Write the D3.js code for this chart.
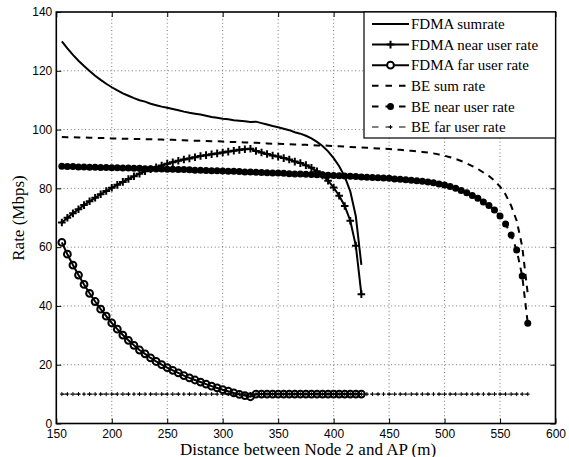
<!DOCTYPE html>
<html>
<head>
<meta charset="utf-8">
<script src="https://cdn.jsdelivr.net/npm/d3@7"></script>
<style>
  html, body { margin: 0; padding: 0; background: #fff; }
  svg { display: block; }
  .serif { font-family: "Liberation Serif", "Times New Roman", Tinos, "DejaVu Serif", serif; }
  .sans { font-family: "Liberation Sans", Arial, Helvetica, Arimo, sans-serif; }
</style>
</head>
<body>
<svg id="chart" width="569" height="457"></svg>
<script>
// Distance between Node 2 and the AP (m)
const distFdma = [155,160,165,170,175,180,185,190,195,200,205,210,215,220,225,230,235,240,245,250,
  255,260,265,270,275,280,285,290,295,300,305,310,315,320,325,330,335,340,345,350,
  355,360,365,370,375,380,385,390,395,400,405,410,415,420,425];
const distBe = [155,160,165,170,175,180,185,190,195,200,205,210,215,220,225,230,235,240,245,250,
  255,260,265,270,275,280,285,290,295,300,305,310,315,320,325,330,335,340,345,350,
  355,360,365,370,375,380,385,390,395,400,405,410,415,420,425,430,435,440,445,450,
  455,460,465,470,475,480,485,490,495,500,505,510,515,520,525,530,535,540,545,550,
  555,560,565,570,575];

// Rates (Mbps)
const fdmaSum = [130.0,127.6,125.4,123.4,121.6,119.9,118.3,116.9,115.6,114.4,113.3,112.3,111.5,110.7,110.0,109.5,108.8,108.3,107.8,107.4,
  107.0,106.6,106.1,105.7,105.4,105.1,104.7,104.3,104.0,103.7,103.5,103.2,103.0,102.8,102.6,102.7,102.2,101.7,101.2,100.8,
  100.3,99.8,99.1,98.6,97.9,97.0,95.8,94.4,92.6,90.3,87.5,84.0,79.0,70.5,54.0];
const fdmaNear = [68.4,70.0,71.5,72.9,74.3,75.6,76.8,78.0,79.1,80.2,81.2,82.2,83.2,84.1,85.0,85.8,86.5,87.2,87.8,88.4,
  88.9,89.4,89.8,90.2,90.6,91.0,91.3,91.6,91.9,92.2,92.5,92.8,93.1,93.3,93.5,92.7,92.2,91.7,91.2,90.8,
  90.3,89.8,89.1,88.6,87.9,87.0,85.8,84.4,82.6,80.3,77.5,74.0,69.0,60.5,44.0];
const fdmaFar = [61.6,57.6,53.9,50.5,47.3,44.3,41.5,38.9,36.5,34.2,32.1,30.1,28.3,26.6,25.0,23.7,22.3,21.1,20.0,19.0,
  18.1,17.2,16.3,15.5,14.8,14.1,13.4,12.7,12.1,11.5,11.0,10.4,9.9,9.5,9.1,10.0,10.0,10.0,10.0,10.0,
  10.0,10.0,10.0,10.0,10.0,10.0,10.0,10.0,10.0,10.0,10.0,10.0,10.0,10.0,10.0];
const beSum = [97.5,97.4,97.4,97.3,97.3,97.2,97.2,97.1,97.1,97.0,97.0,96.9,96.9,96.8,96.8,96.7,96.7,96.6,96.6,96.5,
  96.5,96.4,96.4,96.3,96.2,96.2,96.1,96.0,96.0,95.9,95.8,95.8,95.7,95.6,95.6,95.5,95.4,95.3,95.2,95.2,
  95.1,95.0,94.9,94.9,94.8,94.7,94.6,94.6,94.5,94.4,94.3,94.2,94.1,94.0,93.9,93.8,93.7,93.6,93.5,93.4,
  93.2,93.1,92.9,92.8,92.6,92.4,92.2,91.9,91.5,91.1,90.6,90.0,89.3,88.5,87.6,86.6,85.4,84.2,82.6,80.6,
  77.9,74.1,69.0,60.2,44.1];
const beNear = [87.5,87.4,87.4,87.3,87.3,87.2,87.2,87.1,87.1,87.0,87.0,86.9,86.9,86.8,86.8,86.7,86.7,86.6,86.6,86.5,
  86.5,86.4,86.4,86.3,86.2,86.2,86.1,86.0,86.0,85.9,85.8,85.8,85.7,85.6,85.6,85.5,85.4,85.3,85.2,85.2,
  85.1,85.0,84.9,84.9,84.8,84.7,84.6,84.6,84.5,84.4,84.3,84.2,84.1,84.0,83.9,83.8,83.7,83.6,83.5,83.4,
  83.2,83.1,82.9,82.8,82.6,82.4,82.2,81.9,81.5,81.1,80.6,80.0,79.3,78.5,77.6,76.6,75.4,74.2,72.6,70.6,
  67.9,64.1,59.0,50.2,34.1];
const beFar = [10,10,10,10,10,10,10,10,10,10,10,10,10,10,10,10,10,10,10,10,
  10,10,10,10,10,10,10,10,10,10,10,10,10,10,10,10,10,10,10,10,
  10,10,10,10,10,10,10,10,10,10,10,10,10,10,10,10,10,10,10,10,
  10,10,10,10,10,10,10,10,10,10,10,10,10,10,10,10,10,10,10,10,
  10,10,10,10,10];

const xTicks = [150,200,250,300,350,400,450,500,550,600];
const yTicks = [0,20,40,60,80,100,120,140];

const seriesNames = ["FDMA sumrate","FDMA near user rate","FDMA far user rate",
                     "BE sum rate","BE near user rate","BE far user rate"];

const svg = d3.select("#chart");
const pLeft = 56.3, pRight = 555.5, pTop = 12, pBottom = 423.5;
const x = d3.scaleLinear().domain([150, 600]).range([pLeft, pRight]);
const y = d3.scaleLinear().domain([0, 140]).range([pBottom, pTop]);

// dotted grid
const grid = svg.append("g");
xTicks.slice(1, -1).forEach(t => {
  grid.append("line").attr("x1", x(t)).attr("x2", x(t)).attr("y1", pTop).attr("y2", pBottom)
    .attr("stroke", "#666").attr("stroke-width", 0.9).attr("stroke-dasharray", "1,2.6");
});
yTicks.slice(1, -1).forEach(t => {
  grid.append("line").attr("x1", pLeft).attr("x2", pRight).attr("y1", y(t)).attr("y2", y(t))
    .attr("stroke", "#666").attr("stroke-width", 0.9).attr("stroke-dasharray", "1,2.6");
});

// axes: ticks point inward on all four sides
function styleAxis(g) {
  g.select(".domain").remove();
  g.attr("font-family", null).attr("font-size", null);
  g.selectAll(".tick line").attr("stroke", "#000").attr("stroke-width", 1);
  g.selectAll(".tick text").attr("fill", "#000").attr("class", "sans").style("font-size", "12px");
}
svg.append("g").attr("transform", `translate(0,${pBottom})`)
  .call(d3.axisBottom(x).tickValues(xTicks).tickFormat(d3.format("d")).tickSize(-5).tickPadding(5.5))
  .call(styleAxis);
svg.append("g").attr("transform", `translate(0,${pTop})`)
  .call(d3.axisTop(x).tickValues(xTicks).tickFormat("").tickSize(-5))
  .call(styleAxis);
svg.append("g").attr("transform", `translate(${pLeft},0)`)
  .call(d3.axisLeft(y).tickValues(yTicks).tickFormat(d3.format("d")).tickSize(-5).tickPadding(4))
  .call(styleAxis);
svg.append("g").attr("transform", `translate(${pRight},0)`)
  .call(d3.axisRight(y).tickValues(yTicks).tickFormat("").tickSize(-5))
  .call(styleAxis);

// series
const plot = svg.append("g");
function pts(xs, ys) { return xs.map((d, i) => [d, ys[i]]); }
const line = d3.line().x(d => x(d[0])).y(d => y(d[1]));

const plusPath = s => `M${-s},0H${s}M0,${-s}V${s}`;

// BE far user rate: dash-dot with small plus markers
const beFarPts = pts(distBe, beFar);
plot.append("path").attr("d", line(beFarPts)).attr("fill", "none")
  .attr("stroke", "#000").attr("stroke-width", 1).attr("stroke-dasharray", "6,2.5,1.5,2.5");
plot.selectAll(".bfm").data(beFarPts).enter().append("path")
  .attr("transform", d => `translate(${x(d[0])},${y(d[1])})`)
  .attr("d", plusPath(2)).attr("stroke", "#000").attr("stroke-width", 1).attr("fill", "none");

// BE sum rate: dashed
plot.append("path").attr("d", line(pts(distBe, beSum))).attr("fill", "none")
  .attr("stroke", "#000").attr("stroke-width", 2).attr("stroke-dasharray", "6.5,5.5");

// BE near user rate: dashed with filled dots
const beNearPts = pts(distBe, beNear);
plot.append("path").attr("d", line(beNearPts)).attr("fill", "none")
  .attr("stroke", "#000").attr("stroke-width", 2).attr("stroke-dasharray", "6.5,5.5");
plot.selectAll(".bnm").data(beNearPts).enter().append("circle")
  .attr("cx", d => x(d[0])).attr("cy", d => y(d[1])).attr("r", 3.5).attr("fill", "#000");

// FDMA sumrate: solid
plot.append("path").attr("d", line(pts(distFdma, fdmaSum))).attr("fill", "none")
  .attr("stroke", "#000").attr("stroke-width", 2);

// FDMA near user rate: solid with plus markers
const fdmaNearPts = pts(distFdma, fdmaNear);
plot.append("path").attr("d", line(fdmaNearPts)).attr("fill", "none")
  .attr("stroke", "#000").attr("stroke-width", 2);
plot.selectAll(".fnm").data(fdmaNearPts).enter().append("path")
  .attr("transform", d => `translate(${x(d[0])},${y(d[1])})`)
  .attr("d", plusPath(3.8)).attr("stroke", "#000").attr("stroke-width", 2).attr("fill", "none");

// FDMA far user rate: solid with open circles
const fdmaFarPts = pts(distFdma, fdmaFar);
plot.append("path").attr("d", line(fdmaFarPts)).attr("fill", "none")
  .attr("stroke", "#000").attr("stroke-width", 2);
plot.selectAll(".ffm").data(fdmaFarPts).enter().append("circle")
  .attr("cx", d => x(d[0])).attr("cy", d => y(d[1])).attr("r", 3.4)
  .attr("fill", "none").attr("stroke", "#000").attr("stroke-width", 2);

// plot frame
svg.append("rect").attr("x", pLeft).attr("y", pTop).attr("width", pRight - pLeft).attr("height", pBottom - pTop)
  .attr("fill", "none").attr("stroke", "#000").attr("stroke-width", 1.6);

// axis titles
svg.append("text").attr("class", "serif").attr("x", 308).attr("y", 454.5).attr("text-anchor", "middle")
  .style("font-size", "17px").text("Distance between Node 2 and AP (m)");
svg.append("text").attr("class", "serif").attr("transform", "translate(24,218) rotate(-90)").attr("text-anchor", "middle")
  .style("font-size", "17px").text("Rate (Mbps)");

// legend
const lg = svg.append("g");
lg.append("rect").attr("x", 364).attr("y", pTop).attr("width", pRight - 364).attr("height", 126)
  .attr("fill", "#fff").attr("stroke", "#000").attr("stroke-width", 1.2);
const rowY = [24, 44.6, 65.2, 85.8, 106.4, 127];
const lx1 = 372, lx2 = 409, lmid = (lx1 + lx2) / 2;
const styles = [
  {w: 2, dash: null, marker: null},
  {w: 2, dash: null, marker: "plus"},
  {w: 2, dash: null, marker: "ring"},
  {w: 2, dash: "6.5,7", marker: null},
  {w: 2, dash: "6.5,7", marker: "dot"},
  {w: 1, dash: "6.5,7", marker: "smallplus"}
];
seriesNames.forEach((name, i) => {
  const yy = rowY[i], s = styles[i];
  const ln = lg.append("line").attr("x1", lx1).attr("x2", lx2).attr("y1", yy).attr("y2", yy)
    .attr("stroke", "#000").attr("stroke-width", s.w);
  if (s.dash) ln.attr("stroke-dasharray", s.dash);
  if (s.marker === "plus") lg.append("path").attr("transform", `translate(${lmid},${yy})`)
    .attr("d", plusPath(3.8)).attr("stroke", "#000").attr("stroke-width", 2);
  if (s.marker === "ring") lg.append("circle").attr("cx", lmid).attr("cy", yy).attr("r", 3.4)
    .attr("fill", "#fff").attr("stroke", "#000").attr("stroke-width", 2);
  if (s.marker === "dot") lg.append("circle").attr("cx", lmid).attr("cy", yy).attr("r", 3.5).attr("fill", "#000");
  if (s.marker === "smallplus") lg.append("path").attr("transform", `translate(${lmid},${yy})`)
    .attr("d", plusPath(2)).attr("stroke", "#000").attr("stroke-width", 1);
  lg.append("text").attr("class", "serif").attr("x", 411).attr("y", yy).attr("dy", "0.35em")
    .style("font-size", "15px").text(name);
});
</script>
</body>
</html>
